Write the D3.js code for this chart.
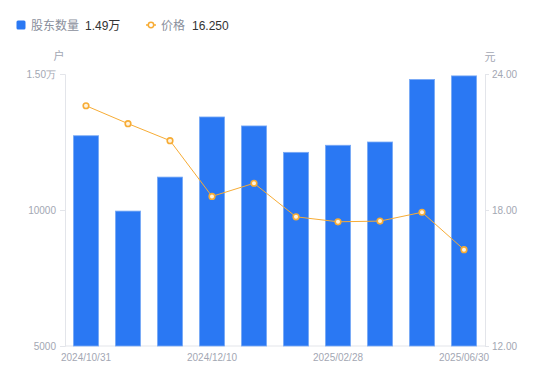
<!DOCTYPE html>
<html><head><meta charset="utf-8">
<script src="https://cdn.jsdelivr.net/npm/d3@7"></script>
<style>body{margin:0;background:#fff;}svg{display:block;font-family:"Liberation Sans",Arial,"Noto Sans CJK SC",sans-serif;}</style>
</head><body>
<svg id="c" width="550" height="381"></svg>
<script>
const dates = ["2024/10/31","2024/11/20","2024/11/29","2024/12/10","2024/12/31","2025/01/20","2025/02/28","2025/03/31","2025/04/30","2025/06/30"];
const holders = [12730, 9960, 11210, 13420, 13090, 12120, 12380, 12500, 14800, 14930];
const prices = [22.60, 21.81, 21.06, 18.60, 19.18, 17.70, 17.48, 17.51, 17.90, 16.25];
const leftTicks = [5000, 10000, 15000];
const rightTicks = [12, 18, 24];
const shownDates = ["2024/10/31","2024/12/10","2025/02/28","2025/06/30"];

const svg = d3.select("#c");
const L = 65, R = 485, T = 74, B = 346;
const x = d3.scaleBand().domain(dates).range([L, R]).paddingInner(0.4).paddingOuter(0.2);
const yL = d3.scaleLinear().domain([5000, 15000]).range([B, T]);
const yR = d3.scaleLinear().domain([12, 24]).range([B, T]);
const axisCol = "#e3e5ea", txtCol = "#a3a7b3";

const ax = svg.append("g").attr("transform", `translate(${L},0)`)
  .call(d3.axisLeft(yL).tickValues(leftTicks).tickSize(5).tickPadding(4)
    .tickFormat(d => d >= 15000 ? (d/10000).toFixed(2) + "万" : d));
const ar = svg.append("g").attr("transform", `translate(${R},0)`)
  .call(d3.axisRight(yR).tickValues(rightTicks).tickSize(4).tickPadding(3)
    .tickFormat(d => d.toFixed(2)));
const ab = svg.append("g").attr("transform", `translate(0,${B})`)
  .call(d3.axisBottom(x).tickValues(shownDates).tickSize(0).tickPadding(8));
[ax, ar, ab].forEach(g => {
  g.selectAll("path.domain").attr("stroke", axisCol);
  g.selectAll(".tick line").attr("stroke", axisCol);
  g.selectAll("text").attr("fill", txtCol).style("font-size", "10px").style("font-family", "inherit");
});
ab.selectAll("path.domain").attr("d", `M${L},0H${R}`);

svg.append("text").attr("x", 59).attr("y", 60).attr("text-anchor", "middle").attr("fill", txtCol).style("font-size", "11px").text("户");
svg.append("text").attr("x", 490).attr("y", 61).attr("text-anchor", "middle").attr("fill", txtCol).style("font-size", "11px").text("元");

svg.append("g").selectAll("rect").data(dates).join("rect")
  .attr("x", d => x(d)).attr("width", x.bandwidth())
  .attr("y", (d, i) => yL(holders[i])).attr("height", (d, i) => B - yL(holders[i]))
  .attr("fill", "#2a78f3").attr("stroke", "#7aaaf5").attr("stroke-width", 0.8);

const cx = d => x(d) + x.bandwidth() / 2;
svg.append("path").datum(dates)
  .attr("d", d3.line().x(cx).y((d, i) => yR(prices[i])))
  .attr("fill", "none").attr("stroke", "#f7ac35").attr("stroke-width", 1);
svg.append("g").selectAll("circle").data(dates).join("circle")
  .attr("cx", cx).attr("cy", (d, i) => yR(prices[i])).attr("r", 2.8)
  .attr("fill", "#fff3df").attr("stroke", "#f7ac35").attr("stroke-width", 1.6);

const lg = svg.append("g");
lg.append("rect").attr("x", 16.5).attr("y", 20.5).attr("width", 9).attr("height", 9).attr("rx", 1.5).attr("fill", "#2a78f3");
lg.append("text").attr("x", 31).attr("y", 29.5).attr("fill", "#8a8f9c").style("font-size", "12px").text("股东数量");
lg.append("text").attr("x", 85).attr("y", 29.5).attr("fill", "#333").style("font-size", "12px").text("1.49万");
lg.append("line").attr("x1", 146).attr("x2", 156).attr("y1", 25).attr("y2", 25).attr("stroke", "#f7ac35").attr("stroke-width", 1.5);
lg.append("circle").attr("cx", 151).attr("cy", 25).attr("r", 2.7).attr("fill", "#fff").attr("stroke", "#f7ac35").attr("stroke-width", 1.5);
lg.append("text").attr("x", 161).attr("y", 29.5).attr("fill", "#8a8f9c").style("font-size", "12px").text("价格");
lg.append("text").attr("x", 192).attr("y", 29.5).attr("fill", "#333").style("font-size", "12px").text("16.250");
</script>
</body></html>
